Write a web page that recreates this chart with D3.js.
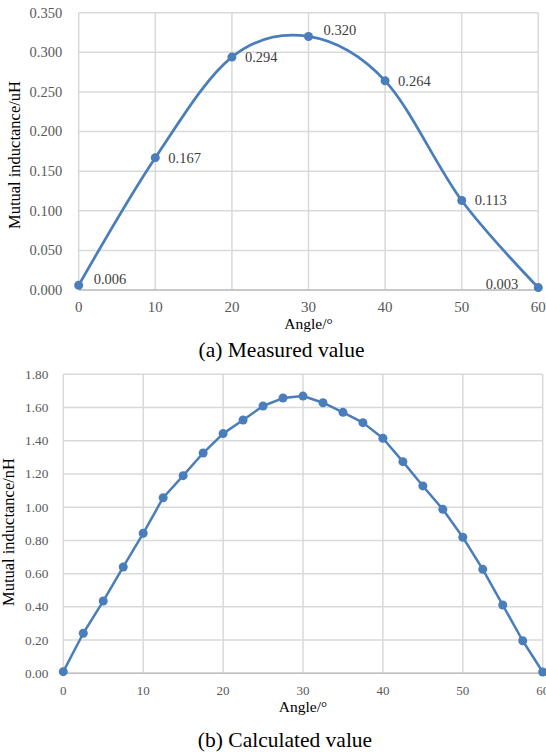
<!DOCTYPE html>
<html>
<head>
<meta charset="utf-8">
<script src="https://cdn.jsdelivr.net/npm/d3@7"></script>
<style>
  html, body { margin: 0; padding: 0; background: #fff; }
  svg { display: block; font-family: "Liberation Serif", "Times New Roman", serif; }
</style>
</head>
<body>
<div id="chart"></div>
<script>
// (a) measured
const measuredAngles = [0, 10, 20, 30, 40, 50, 60];
const measuredValues = [0.006, 0.167, 0.294, 0.320, 0.264, 0.113, 0.003];
const measuredTicks = [0, 0.05, 0.10, 0.15, 0.20, 0.25, 0.30, 0.35];
// where each value label sits relative to its point
const measuredLabelSide = ["upRight", "right", "right", "upRight", "right", "right", "upLeft"];

// (b) calculated
const calcAngles = [0, 2.5, 5, 7.5, 10, 12.5, 15, 17.5, 20, 22.5, 25, 27.5, 30,
                    32.5, 35, 37.5, 40, 42.5, 45, 47.5, 50, 52.5, 55, 57.5, 60];
const calcValues = [0.01, 0.241, 0.435, 0.640, 0.843, 1.057, 1.190, 1.326, 1.443, 1.525, 1.609, 1.657, 1.669,
                    1.629, 1.571, 1.509, 1.415, 1.274, 1.128, 0.987, 0.819, 0.626, 0.411, 0.196, 0.008];
const calcTicks = [0, 0.2, 0.4, 0.6, 0.8, 1.0, 1.2, 1.4, 1.6, 1.8];

const angleTicks = [0, 10, 20, 30, 40, 50, 60];

const width = 546, height = 752;
const blue = "#4a7ebb";

const svg = d3.select("#chart").append("svg")
    .attr("width", width)
    .attr("height", height)
    .attr("viewBox", `0 0 ${width} ${height}`);

function drawChart(o) {
    const x = d3.scaleLinear().domain([0, 60]).range([o.left, o.right]);
    const y = d3.scaleLinear().domain([0, o.yMax]).range([o.bottom, o.top]);
    const g = svg.append("g");

    // grid
    g.selectAll(".hgrid").data(o.yTicks).enter().append("line")
        .attr("x1", o.left).attr("x2", o.right)
        .attr("y1", d => y(d)).attr("y2", d => y(d))
        .attr("stroke", "#d9d9d9").attr("stroke-width", 1.5);
    g.selectAll(".vgrid").data(angleTicks).enter().append("line")
        .attr("x1", d => x(d)).attr("x2", d => x(d))
        .attr("y1", o.top).attr("y2", o.bottom)
        .attr("stroke", "#d9d9d9").attr("stroke-width", 1.5);
    // bottom axis line
    g.append("line")
        .attr("x1", o.left).attr("x2", o.right)
        .attr("y1", o.bottom).attr("y2", o.bottom)
        .attr("stroke", "#bfbfbf").attr("stroke-width", 1.5);

    // y tick labels
    g.selectAll(".ylab").data(o.yTicks).enter().append("text")
        .attr("x", o.left - o.yLabGap)
        .attr("y", d => y(d) + o.tickSize * 0.34)
        .attr("text-anchor", "end")
        .attr("fill", "#595959")
        .style("font-size", o.tickSize + "px")
        .text(d => d3.format(o.yFmt)(d));

    // x tick labels
    g.selectAll(".xlab").data(angleTicks).enter().append("text")
        .attr("x", d => x(d))
        .attr("y", o.xLabY)
        .attr("text-anchor", "middle")
        .attr("fill", "#595959")
        .style("font-size", o.xTickSize + "px")
        .text(d => d);

    // axis titles
    g.append("text")
        .attr("transform", `translate(${o.yTitleX}, ${o.yTitleY}) rotate(-90)`)
        .attr("text-anchor", "middle")
        .attr("fill", "#000")
        .style("font-size", "16.5px")
        .text(o.yTitle);
    g.append("text")
        .attr("x", (o.left + o.right) / 2)
        .attr("y", o.xTitleY)
        .attr("text-anchor", "middle")
        .attr("fill", "#000")
        .style("font-size", "15.5px")
        .text("Angle/°");

    // caption
    g.append("text")
        .attr("x", o.captionX)
        .attr("y", o.captionY)
        .attr("text-anchor", "middle")
        .attr("fill", "#000")
        .style("font-size", "21.5px")
        .text(o.caption);

    const pts = o.xs.map((a, i) => [a, o.ys[i]]);
    const line = d3.line().x(d => x(d[0])).y(d => y(d[1])).curve(o.curve);
    g.append("path")
        .datum(pts)
        .attr("d", line)
        .attr("fill", "none")
        .attr("stroke", blue)
        .attr("stroke-width", o.lineW)
        .attr("stroke-linejoin", "round");
    g.selectAll(".dot").data(pts).enter().append("circle")
        .attr("cx", d => x(d[0]))
        .attr("cy", d => y(d[1]))
        .attr("r", 4.5)
        .attr("fill", blue);

    return { g, x, y, pts };
}

const a = drawChart({
    left: 78.7, right: 538.3, top: 12.7, bottom: 290,
    yMax: 0.35, yTicks: measuredTicks, yFmt: ".3f",
    tickSize: 14.5, xTickSize: 15, yLabGap: 16.5, xLabY: 312,
    yTitle: "Mutual inductance/uH", yTitleX: 20, yTitleY: 155,
    xTitleY: 329, caption: "(a) Measured value", captionX: 281.5, captionY: 357,
    xs: measuredAngles, ys: measuredValues,
    curve: d3.curveCardinal.tension(0), lineW: 2.75
});

// value labels for (a)
const offsets = {
    right: { dx: 13, dy: 0, anchor: "start" },
    upRight: { dx: 15, dy: -6, anchor: "start" },
    upLeft: { dx: -20, dy: -4, anchor: "end" }
};
a.g.selectAll(".vlab").data(a.pts).enter().append("text")
    .attr("x", (d, i) => a.x(d[0]) + offsets[measuredLabelSide[i]].dx)
    .attr("y", (d, i) => a.y(d[1]) + offsets[measuredLabelSide[i]].dy + 5)
    .attr("text-anchor", (d, i) => offsets[measuredLabelSide[i]].anchor)
    .attr("fill", "#404040")
    .style("font-size", "14.5px")
    .text(d => d3.format(".3f")(d[1]));

drawChart({
    left: 63.3, right: 542.7, top: 374.3, bottom: 673.3,
    yMax: 1.8, yTicks: calcTicks, yFmt: ".2f",
    tickSize: 13.3, xTickSize: 13, yLabGap: 15, xLabY: 695,
    yTitle: "Mutual inductance/nH", yTitleX: 14, yTitleY: 532,
    xTitleY: 712, caption: "(b) Calculated value", captionX: 285, captionY: 747,
    xs: calcAngles, ys: calcValues,
    curve: d3.curveLinear, lineW: 2.5
});
</script>
</body>
</html>
